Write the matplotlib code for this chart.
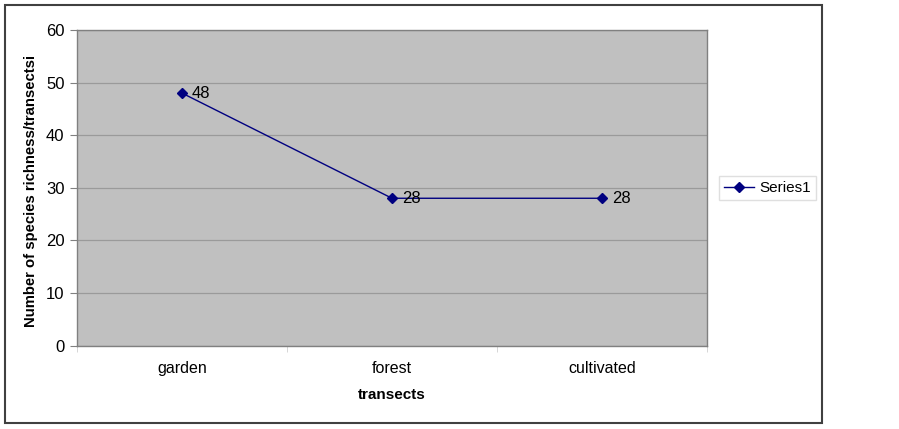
import matplotlib
matplotlib.use("Agg")
import matplotlib.pyplot as plt
from matplotlib.patches import Rectangle
from matplotlib.lines import Line2D

categories = ["garden", "forest", "cultivated"]
values = [48, 28, 28]
yticks = [0, 10, 20, 30, 40, 50, 60]
series_name = "Series1"

plt.rcParams['font.family'] = ['Liberation Sans', 'DejaVu Sans']

W, H = 899, 429
fig = plt.figure(figsize=(W/100, H/100), dpi=100)

# outer frame
fig.patches.append(Rectangle((5/W, 1 - 423/H), (822-5)/W, (423-5)/H,
                             transform=fig.transFigure, fill=False,
                             edgecolor='#404040', linewidth=1.5))

l, r, t, b = 77, 707, 30, 345.5
ax = fig.add_axes([l/W, 1 - b/H, (r-l)/W, (b-t)/H])
ax.set_facecolor('#C0C0C0')
x = list(range(len(categories)))
ax.plot(x, values, color='#000080', linewidth=1.0, marker='D', markersize=5,
        markerfacecolor='#000080', markeredgecolor='#000080', zorder=3)
for xi, v in zip(x, values):
    ax.annotate(str(v), (xi, v), xytext=(7, 0), textcoords='offset points',
                ha='left', va='center', fontsize=12, color='black')

ax.set_xlim(-0.5, len(categories) - 0.5)
ax.set_ylim(0, 60)
ax.set_yticks(yticks)
ax.set_yticklabels([str(v) for v in yticks])
ax.yaxis.grid(True, color='#9a9a9a', linewidth=0.9)
ax.set_axisbelow(True)
ax.set_xticks(x)
ax.set_xticklabels(categories)
ax.set_xticks([i - 0.5 for i in range(len(categories) + 1)], minor=True)
ax.tick_params(axis='x', which='major', length=0, pad=11, labelsize=11.5)
ax.tick_params(axis='x', which='minor', length=4, color='#d0d0d0', direction='out')
ax.tick_params(axis='y', length=5, color='#808080', pad=4, labelsize=12)
for s in ax.spines.values():
    s.set_color('#808080')
    s.set_linewidth(1.0)

fig.text(392/W, 1 - 395/H, "transects", fontsize=11, fontweight='bold',
         ha='center', va='center')
fig.text(31/W, 1 - 191/H, "Number of species richness/transectsi", fontsize=10.7,
         fontweight='bold', rotation=90, ha='center', va='center')

handle = Line2D([], [], color='#000080', marker='D', markersize=5, linewidth=1.0)
leg = fig.legend([handle], [series_name], loc='center left',
                 bbox_to_anchor=(719/W, 1 - 188/H), fontsize=11,
                 frameon=True, fancybox=False, handlelength=2.0,
                 borderpad=0.3, handletextpad=0.35, borderaxespad=0)
leg.get_frame().set_edgecolor('#d8d8d8')
leg.get_frame().set_linewidth(1.0)

fig.savefig("out.png", dpi=100)
